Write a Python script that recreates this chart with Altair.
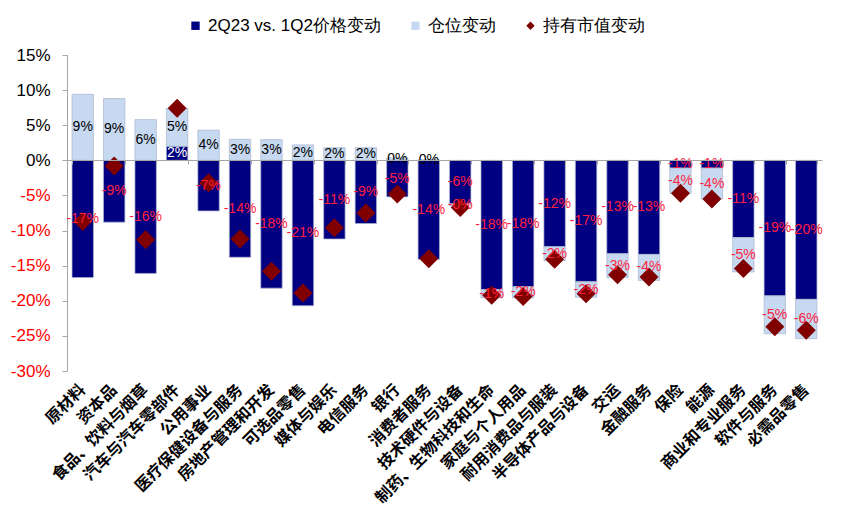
import altair as alt
import pandas as pd

categories = ["原材料", "资本品", "食品、饮料与烟草", "汽车与汽车零部件", "公用事业",
              "医疗保健设备与服务", "房地产管理和开发", "可选品零售", "媒体与娱乐", "电信服务",
              "银行", "消费者服务", "技术硬件与设备", "制药、生物科技和生命", "家庭与个人用品",
              "耐用消费品与服装", "半导体产品与设备", "交运", "金融服务", "保险", "能源",
              "商业和专业服务", "软件与服务", "必需品零售"]
price_change = [-16.7, -8.8, -16.1, 2.0, -7.2, -13.8, -18.2, -20.7, -11.2, -9.0, -5.2, -14.1,
                -6.2, -18.4, -18.0, -12.3, -17.3, -13.3, -13.4, -1.1, -1.1, -11.0, -19.3, -19.8]
position_change = [9.4, 8.8, 5.8, 5.4, 4.3, 3.0, 2.95, 2.2, 1.8, 1.8, 0.35, 0.1,
                   -0.3, -1.2, -1.6, -2.0, -2.2, -3.4, -3.7, -3.6, -4.4, -4.9, -5.4, -5.6]
value_change = [-8.7, -0.8, -11.3, 7.4, -3.2, -11.2, -15.8, -18.9, -9.6, -7.5, -4.8, -14.0,
                -6.7, -19.2, -19.4, -14.1, -19.0, -16.3, -16.6, -4.7, -5.5, -15.4, -23.7, -24.2]

S1 = "2Q23 vs. 1Q2价格变动"
S2 = "仓位变动"
S3 = "持有市值变动"
series_names = [S1, S2, S3]
series_colors = ["#000080", "#C6D9F0", "#800000"]
series_shapes = ["square", "square", "diamond"]

RED = "#FF1F3F"

bar_rows, label_rows = [], []
for c, p, q in zip(categories, price_change, position_change):
    bar_rows.append({"cat": c, "series": S1, "v": p, "ord": 1})
    bar_rows.append({"cat": c, "series": S2, "v": q, "ord": 2})
    mid_q = p + q / 2 if (q >= 0) == (p >= 0) else q / 2
    tp = f"{p:.0f}%"
    tq = f"{q:.0f}%"
    label_rows.append({"cat": c, "mid": p / 2, "txt": tp,
                       "col": "#FFFFFF" if p > 0 else RED})
    label_rows.append({"cat": c, "mid": mid_q, "txt": tq,
                       "col": RED if tq.startswith("-") else "#000000"})
bars_df = pd.DataFrame(bar_rows)
labels_df = pd.DataFrame(label_rows)
pts_df = pd.DataFrame({"cat": categories, "series": S3, "v": value_change})

xscale = alt.Scale(paddingInner=0.32, paddingOuter=0.16)
yscale = alt.Scale(domain=[-30, 15], nice=False, zero=False)
legend = alt.Legend(orient="none", legendX=120, legendY=-38, direction="horizontal",
                    title=None, labelFont="Liberation Sans", labelFontSize=17,
                    labelColor="#000000", symbolSize=70, columnPadding=26,
                    labelOffset=4, symbolStrokeWidth=0, labelLimit=400)
color = alt.Color("series:N", scale=alt.Scale(domain=series_names, range=series_colors),
                  legend=legend)

yaxis = alt.Axis(values=list(range(-30, 16, 5)), labelExpr="datum.value + '%'",
                 labelFont="Liberation Sans", labelFontSize=17,
                 labelColor={"expr": "datum.value < 0 ? '#FF0000' : '#000000'"},
                 domainColor="#A6A6A6", tickColor="#A6A6A6", tickSize=5,
                 labelPadding=12, grid=False, title=None)

bars = alt.Chart(bars_df).mark_bar(stroke="#A9B4CF", strokeWidth=0.7).encode(
    x=alt.X("cat:N", sort=categories, scale=xscale,
            axis=alt.Axis(orient="bottom", labelAngle=-45, labelAlign="right",
                          labelBaseline="middle", labelFont="Noto Sans CJK SC",
                          labelFontSize=16, labelFontWeight="bold", labelColor="#000000",
                          domain=False, ticks=False, labelPadding=16, title=None,
                          labelLimit=300)),
    y=alt.Y("v:Q", stack="zero", scale=yscale, axis=yaxis),
    color=color,
    order=alt.Order("ord:Q"),
)

points = alt.Chart(pts_df).mark_point(filled=True, size=361, opacity=1).encode(
    x=alt.X("cat:N", sort=categories, scale=xscale,
            axis=alt.Axis(orient="bottom", offset=-211, labels=False, ticks=True,
                          tickSize=4, tickBand="extent", domain=True,
                          domainColor="#A6A6A6", tickColor="#A6A6A6", title=None,
                          zindex=1)),
    y=alt.Y("v:Q", scale=yscale, axis=yaxis),
    color=color,
    shape=alt.Shape("series:N", scale=alt.Scale(domain=series_names, range=series_shapes),
                    legend=legend),
)

labels = alt.Chart(labels_df).mark_text(font="Liberation Sans", fontSize=14,
                                         baseline="middle", align="center").encode(
    x=alt.X("cat:N", sort=categories, scale=xscale, axis=None),
    y=alt.Y("mid:Q", scale=yscale, axis=yaxis),
    text="txt:N",
    color=alt.Color("col:N", scale=None),
)

chart = alt.layer(bars, points, labels).resolve_axis(x="independent").properties(
    width=755, height=316,
    autosize=alt.AutoSizeParams(type="none"),
    padding={"left": 59, "top": 47, "right": 10, "bottom": 138},
).configure_view(stroke=None)

chart.save("out.html", embed_options={"renderer": "svg", "actions": False})
